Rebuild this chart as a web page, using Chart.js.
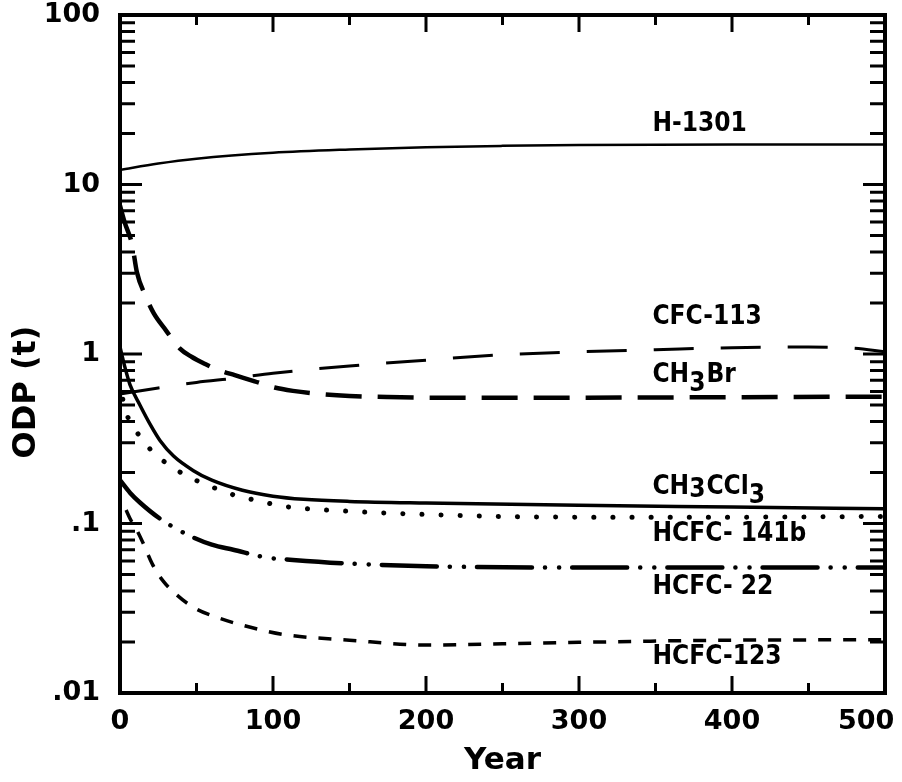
<!DOCTYPE html>
<html>
<head>
<meta charset="utf-8">
<script src="https://cdn.jsdelivr.net/npm/chart.js@4"></script>
<style>
  body { margin: 0; background: #fff; }
  canvas { display: block; }
</style>
</head>
<body>
<canvas id="odpChart" width="902" height="782"></canvas>
<script>
// values (year, ODP)
const h1301Years = [0, 25, 50, 100, 150, 200, 250, 300, 400, 500];
const h1301Odp = [12.2, 13.3, 14.2, 15.4, 16.1, 16.6, 16.9, 17.1, 17.2, 17.2];

const cfc113Years = [0, 25, 50, 75, 100, 150, 200, 250, 300, 350, 400, 450, 480, 500];
const cfc113Odp = [0.58, 0.63, 0.68, 0.72, 0.77, 0.85, 0.92, 0.99, 1.03, 1.06, 1.09, 1.1, 1.08, 1.03];

const ch3brYears = [0, 3, 8, 11, 17, 22, 30, 39, 47, 56, 65, 75, 88, 101, 113, 130, 150, 175, 200, 250, 300, 400, 500];
const ch3brOdp = [7.5, 6.0, 4.4, 3.05, 2.17, 1.74, 1.38, 1.08, 0.96, 0.87, 0.8, 0.75, 0.69, 0.634, 0.606, 0.582, 0.566, 0.557, 0.553, 0.551, 0.552, 0.556, 0.56];

const ch3ccl3Years = [0, 3, 6.5, 13, 20, 26, 35, 48, 60, 80, 100, 120, 150, 200, 300, 400, 500];
const ch3ccl3Odp = [1.1, 0.85, 0.66, 0.5, 0.38, 0.31, 0.25, 0.205, 0.18, 0.157, 0.145, 0.139, 0.135, 0.132, 0.128, 0.125, 0.122];

const hcfc141bYears = [0, 2, 4, 9, 16, 25, 35, 44, 54, 65, 77, 89, 100, 111, 150, 200, 250, 300, 400, 500];
const hcfc141bOdp = [0.7, 0.53, 0.45, 0.37, 0.3, 0.247, 0.213, 0.19, 0.173, 0.158, 0.145, 0.137, 0.13, 0.125, 0.118, 0.113, 0.11, 0.109, 0.109, 0.11];

const hcfc22Years = [0, 6.5, 13, 26, 44, 60, 74, 96, 113, 150, 200, 300, 400, 500];
const hcfc22Odp = [0.18, 0.152, 0.133, 0.107, 0.086, 0.075, 0.07, 0.063, 0.061, 0.058, 0.056, 0.055, 0.055, 0.055];

const hcfc123Years = [4, 7, 10, 15, 21, 28, 37, 48, 63, 92, 109, 150, 200, 250, 300, 400, 500];
const hcfc123Odp = [0.12, 0.105, 0.095, 0.077, 0.058, 0.046, 0.038, 0.032, 0.028, 0.0236, 0.022, 0.0205, 0.0192, 0.0195, 0.0199, 0.0205, 0.0206];

const xTickLabels = ['0', '100', '200', '300', '400', '500'];
const yTickValues = [0.01, 0.1, 1, 10, 100];
const yTickLabels = ['.01', '.1', '1', '10', '100'];

// curve names; [text, drop] pieces so the 3s can sit low like in the print
const seriesNames = [
  [['H-1301', 0]],
  [['CFC-113', 0]],
  [['CH', 0], ['3', 9], ['Br', 0]],
  [['CH', 0], ['3', 3], ['CCl', 0], ['3', 9]],
  [['HCFC- 141b', 0]],
  [['HCFC- 22', 0]],
  [['HCFC-123', 0]],
];
// where each curve name sits, in data units (year, ODP)
const labelSpots = [[348, 22.8], [348, 1.65], [348, 0.75], [348, 0.164], [348, 0.087], [348, 0.042], [348, 0.0163]];

const FONT = '"DejaVu Sans Condensed", "DejaVu Sans", sans-serif';
const WIDE = '"DejaVu Sans", sans-serif';

const pts = (xs, ys) => xs.map((x, i) => ({ x: x, y: ys[i] }));

function line(data, width, dash, cap) {
  return {
    data: data,
    borderColor: '#000',
    borderWidth: width,
    borderDash: dash,
    borderCapStyle: cap || 'butt',
    pointRadius: 0,
    fill: false,
    cubicInterpolationMode: 'monotone',
  };
}

// inward ticks on all four sides, the heavy frame and the curve names
const frameTicks = {
  id: 'frameTicks',
  afterDatasetsDraw(chart) {
    const { ctx, chartArea: a, scales: { x, y } } = chart;
    ctx.save();
    ctx.strokeStyle = '#000';
    ctx.lineCap = 'butt';
    ctx.lineWidth = 3;
    for (let v = 50; v < 500; v += 50) {
      const px = x.getPixelForValue(v);
      const len = v % 100 === 0 ? 17 : 10;
      ctx.beginPath();
      ctx.moveTo(px, a.bottom); ctx.lineTo(px, a.bottom - len);
      ctx.moveTo(px, a.top); ctx.lineTo(px, a.top + len);
      ctx.stroke();
    }
    for (let k = -2; k < 2; k++) {
      for (let m = 1; m <= 9; m++) {
        if (m === 1 && k === -2) continue;
        const py = y.getPixelForValue(m * Math.pow(10, k));
        const len = m === 1 ? 22 : 15;
        ctx.beginPath();
        ctx.moveTo(a.left, py); ctx.lineTo(a.left + len, py);
        ctx.moveTo(a.right, py); ctx.lineTo(a.right - len, py);
        ctx.stroke();
      }
    }
    ctx.lineWidth = 4;
    ctx.strokeRect(a.left, a.top, a.right - a.left, a.bottom - a.top);

    ctx.fillStyle = '#000';
    ctx.font = 'bold 26px ' + FONT;
    ctx.textBaseline = 'middle';
    ctx.textAlign = 'left';
    seriesNames.forEach((parts, i) => {
      const [yr, odp] = labelSpots[i];
      let px = x.getPixelForValue(yr);
      const py = y.getPixelForValue(odp);
      parts.forEach(([txt, drop]) => {
        ctx.fillText(txt, px, py + drop);
        px += ctx.measureText(txt).width + (drop ? 1 : 0);
      });
    });

    // y axis title, sits a bit below the middle in the original
    ctx.font = 'bold 32px ' + WIDE;
    ctx.textAlign = 'center';
    ctx.translate(27, 392);
    ctx.rotate(-Math.PI / 2);
    ctx.fillText('ODP (t)', 0, 0);
    ctx.restore();
  }
};

const ctx = document.getElementById('odpChart').getContext('2d');

new Chart(ctx, {
  type: 'line',
  data: {
    datasets: [
      line(pts(h1301Years, h1301Odp), 2.5, []),
      line(pts(cfc113Years, cfc113Odp), 3, [40, 27]),
      line(pts(ch3brYears, ch3brOdp), 4.5, [36, 16]),
      line(pts(ch3ccl3Years, ch3ccl3Odp), 3.5, []),
      line(pts(hcfc141bYears, hcfc141bOdp), 5, [0.1, 19], 'round'),
      line(pts(hcfc22Years, hcfc22Odp), 4.5, [55, 13, 0.1, 14, 0.1, 13], 'round'),
      line(pts(hcfc123Years, hcfc123Odp), 3.5, [13, 12]),
    ],
  },
  options: {
    responsive: false,
    animation: false,
    layout: { padding: { top: 15, right: 17, left: 0, bottom: 0 } },
    plugins: {
      legend: { display: false },
      tooltip: { enabled: false },
    },
    scales: {
      x: {
        type: 'linear',
        min: 0,
        max: 500,
        grid: { display: false, drawTicks: false },
        border: { display: false },
        ticks: {
          stepSize: 100,
          color: '#000',
          padding: 13,
          font: { family: WIDE, size: 27, weight: 'bold' },
          // last label is pulled in from the edge, as in the print
          callback: (v, i, arr) => xTickLabels[i] + (i === arr.length - 1 ? '\u2007\u2007' : ''),
        },
        title: { display: true, text: 'Year', color: '#000', padding: { top: 0, bottom: 2 }, font: { family: WIDE, size: 31, weight: 'bold' } },
        afterFit(scale) {
          scale.height = 89;
          scale.paddingLeft = 0;
          scale.paddingRight = 0;
        },
      },
      y: {
        type: 'logarithmic',
        min: 0.01,
        max: 100,
        grid: { display: false, drawTicks: false },
        border: { display: false },
        ticks: {
          color: '#000',
          padding: 20,
          font: { family: WIDE, size: 27, weight: 'bold' },
          callback: (v) => {
            const i = yTickValues.indexOf(v);
            return i >= 0 ? yTickLabels[i] : '';
          },
        },
        afterBuildTicks(scale) {
          scale.ticks = yTickValues.map((v) => ({ value: v }));
        },
        afterFit(scale) {
          scale.width = 120;
          scale.paddingTop = 0;
          scale.paddingBottom = 0;
        },
      },
    },
  },
  plugins: [frameTicks],
});
</script>
</body>
</html>
